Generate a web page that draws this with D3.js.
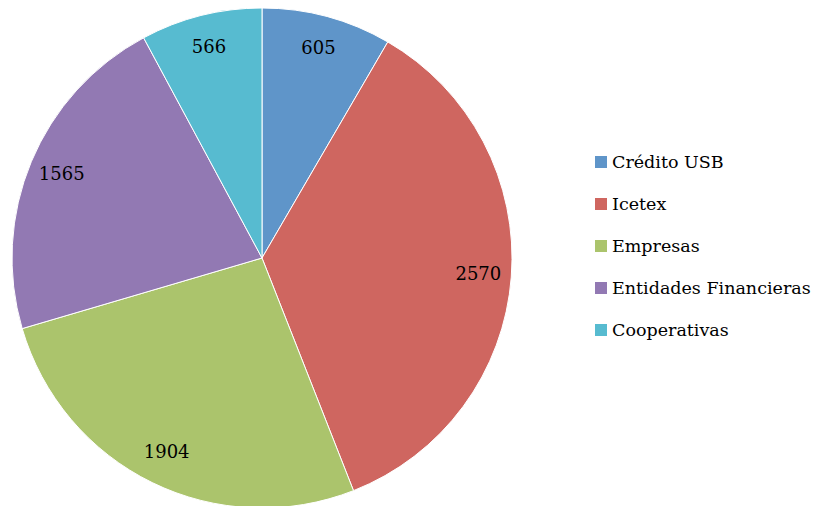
<!DOCTYPE html>
<html>
<head>
<meta charset="utf-8">
<script src="https://cdn.jsdelivr.net/npm/d3@7"></script>
<style>
  body { margin: 0; background: #fff; }
  svg { display: block; }
</style>
</head>
<body>
<svg id="pie" width="815" height="506"></svg>
<script>
// data
const categories = ["Crédito USB", "Icetex", "Empresas", "Entidades Financieras", "Cooperativas"];
const values = [605, 2570, 1904, 1565, 566];
const colors = ["#5F95C9", "#CF6660", "#ABC46C", "#9279B3", "#57BBD0"];

const width = 815, height = 506;
const cx = 262, cy = 258, radius = 250;
const labelRadius = 217;

const svg = d3.select("#pie");
const font = "'DejaVu Serif', Cambria, serif";

const color = d3.scaleOrdinal().domain(categories).range(colors);

const pie = d3.pie().sort(null).value((d, i) => values[i]);
const arcs = pie(categories);

const arc = d3.arc().innerRadius(0).outerRadius(radius);
const labelArc = d3.arc().innerRadius(labelRadius).outerRadius(labelRadius);

const g = svg.append("g").attr("transform", `translate(${cx},${cy})`);

g.selectAll("path")
  .data(arcs)
  .join("path")
  .attr("d", arc)
  .attr("fill", d => color(d.data))
  .attr("stroke", "#fff")
  .attr("stroke-width", 1);

g.selectAll("text")
  .data(arcs)
  .join("text")
  .attr("transform", d => `translate(${labelArc.centroid(d)})`)
  .attr("text-anchor", "middle")
  .attr("dy", "0.3em")
  .style("font-family", font)
  .style("font-size", "18px")
  .attr("fill", "#000")
  .text(d => d.value);

// legend
const legendY = d3.scalePoint().domain(categories).range([162, 330]);

const legend = svg.append("g")
  .selectAll("g")
  .data(categories)
  .join("g")
  .attr("transform", d => `translate(595,${legendY(d)})`);

legend.append("rect")
  .attr("x", 0)
  .attr("y", -6)
  .attr("width", 12)
  .attr("height", 12)
  .attr("fill", d => color(d));

legend.append("text")
  .attr("x", 17)
  .attr("dy", "0.35em")
  .style("font-family", font)
  .style("font-size", "17.5px")
  .attr("fill", "#000")
  .text(d => d);
</script>
</body>
</html>
